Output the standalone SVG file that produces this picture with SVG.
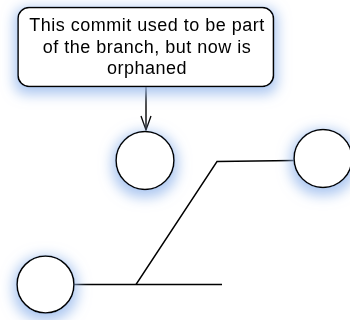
<svg xmlns="http://www.w3.org/2000/svg" width="350" height="320" viewBox="0 0 350 320">
  <defs>
    <!-- soft blue glow cast below each shape -->
    <filter id="glow" x="-50%" y="-50%" width="200%" height="200%">
      <feMorphology in="SourceAlpha" operator="dilate" radius="3" result="grown"/>
      <feGaussianBlur in="grown" stdDeviation="6.5"/>
      <feOffset dx="0" dy="4" result="blur"/>
      <feFlood flood-color="#9dbdee" flood-opacity="0.85"/>
      <feComposite in2="blur" operator="in" result="shadow"/>
      <feMerge>
        <feMergeNode in="shadow"/>
        <feMergeNode in="SourceGraphic"/>
      </feMerge>
    </filter>
    <marker id="open-arrow" markerWidth="16" markerHeight="12" refX="15" refY="6" orient="auto" markerUnits="userSpaceOnUse" viewBox="0 0 16 12">
      <path d="M1 1 L15 6 L1 11" fill="none" stroke="#000" stroke-width="1.3"/>
    </marker>
  </defs>
  <style>
    .commit { fill: #fff; stroke: #000; stroke-width: 1.6; }
    .note { fill: #fff; stroke: #000; stroke-width: 1.6; }
    .wire { fill: none; stroke: #000; stroke-width: 1.4; }
    .label { font-family: "Liberation Sans", Arial, sans-serif; font-size: 18px; letter-spacing: 0.5px; fill: #000; text-anchor: middle; }
  </style>

  <g id="connectors">
    <line class="wire" x1="146" y1="87" x2="146" y2="130" marker-end="url(#open-arrow)"/>
    <polyline class="wire" points="74,284.5 222,284.5"/>
    <polyline class="wire" points="136,284.5 217,161.5 294,160.5"/>
  </g>

  <g id="note" filter="url(#glow)">
    <rect class="note" x="18" y="7.5" width="255.5" height="79" rx="11" ry="11"/>
    <text class="label" x="147" y="31">This commit used to be part</text>
    <text class="label" x="147" y="52.5">of the branch, but now is</text>
    <text class="label" x="147" y="74">orphaned</text>
  </g>

  <g id="orphan-commit" filter="url(#glow)">
    <circle class="commit" cx="145" cy="160.5" r="29"/>
  </g>

  <g id="branch-tip" filter="url(#glow)">
    <circle class="commit" cx="323" cy="158.5" r="29"/>
  </g>

  <g id="base-commit" filter="url(#glow)">
    <circle class="commit" cx="45.5" cy="284.5" r="28.5"/>
  </g>
</svg>
